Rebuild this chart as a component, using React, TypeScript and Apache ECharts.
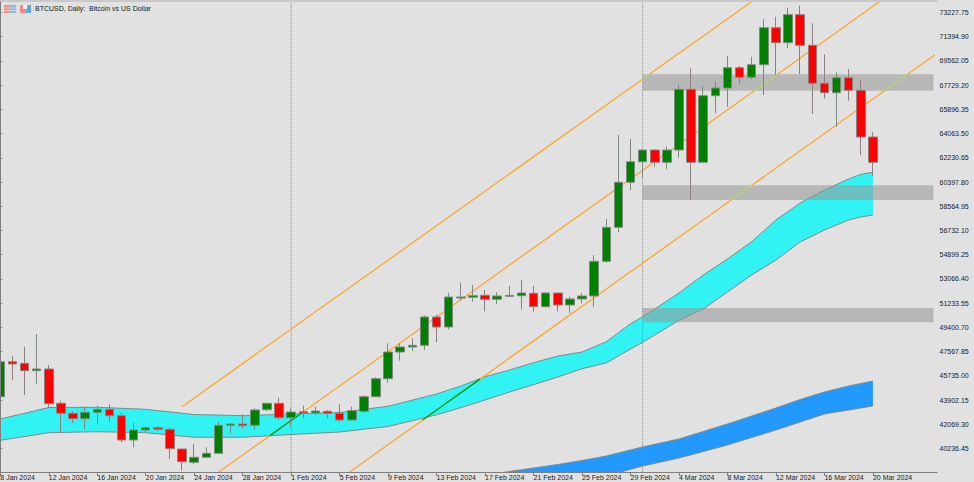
import React, { useEffect, useRef } from "react";
import * as echarts from "echarts";

const title = "BTCUSD, Daily:  Bitcoin vs US Dollar";

const monthSpans: [string, number, number][] = [["Jan", 8, 31], ["Feb", 1, 29], ["Mar", 1, 20]];
const blankSlots = ["", "", "", "", ""];

const opens = [
  44156, 46804, 46683, 46123, 46252, 43656, 42900, 42491, 42975, 43202,
  42718, 40879, 41636, 41810, 41689, 40198, 39192, 39570, 39873, 41991,
  42090, 41991, 43172, 43656, 42567, 43021, 42922, 43051, 42900, 42393,
  43051, 44156, 45518, 47538, 47917, 48045, 50187, 49430, 51624, 51677,
  51829, 51526, 51753, 51798, 51981, 50966, 52003, 51095, 51549, 51776,
  54401, 56974, 60379, 61938, 62823, 61893, 62823, 67417, 61893, 66932,
  67515, 69051, 68325, 69278, 72078, 70943, 73062, 70746, 67871, 67159,
  68294, 67341, 63807,
];
const closes = [
  46804, 46630, 46123, 46252, 43626, 42900, 42491, 42975, 43202, 42718,
  40879, 41636, 41810, 41689, 40221, 39237, 39570, 39873, 41991, 42090,
  41961, 43149, 43656, 42567, 42998, 42922, 43074, 42900, 42393, 43097,
  44156, 45518, 47538, 47917, 48045, 50187, 49430, 51700, 51700, 51798,
  51526, 51776, 51829, 52003, 50966, 52003, 51095, 51549, 51776, 54401,
  56974, 60379, 61938, 62823, 61893, 62823, 67417, 61893, 66932, 67515,
  69051, 68325, 69278, 72078, 70943, 73062, 70746, 67871, 67159, 68294,
  67341, 63807, 61893,
];
const lows = [
  44100, 45419, 44284, 45094, 43301, 41409, 42166, 41712, 42067, 42264,
  40705, 40327, 41485, 41583, 39441, 38556, 39063, 39570, 39873, 41386,
  41712, 41636, 43074, 42393, 41885, 42521, 42771, 42544, 42241, 42317,
  42922, 44156, 45215, 46880, 47614, 47689, 48295, 49256, 51420, 51344,
  50618, 51170, 51723, 50769, 50588, 50921, 50618, 50467, 51223, 50921,
  54296, 56596, 59797, 60705, 61560, 61363, 62241, 59040, 61893, 65601,
  66100, 67818, 68173, 66985, 68499, 70519, 68574, 65548, 66705, 64587,
  66554, 62445, 60879,
];
const highs = [
  46850, 47235, 47939, 48900, 46554, 43853, 43074, 43399, 43475, 43580,
  42945, 42188, 41863, 41939, 41840, 40198, 40577, 40327, 42264, 42143,
  42847, 43278, 43656, 44080, 43278, 43475, 43399, 43149, 43580, 43399,
  44284, 45624, 48197, 48197, 48575, 50315, 50361, 52025, 52782, 52608,
  52230, 52056, 52532, 52986, 52532, 52056, 52003, 51723, 51981, 54878,
  57602, 63959, 63656, 62823, 62823, 63073, 67742, 69006, 67666, 67992,
  69959, 69180, 69884, 72736, 72910, 73591, 73743, 72411, 70065, 68703,
  68953, 68120, 64163,
];

const cyanDays = [0, 4, 8, 12, 16, 20, 24, 28, 32, 36, 38, 40, 42, 44, 46, 48, 50, 52, 53, 54, 56, 58, 60, 62, 64, 66, 68, 70, 71, 72];
const cyanUpper = [42468, 43338, 43354, 43202, 42809, 42718, 42847, 42960, 43429, 44360, 44965, 45669, 46176, 46728, 47235, 47538, 48318, 49680, 50209, 50792, 52003, 53365, 54575, 55885, 57527, 58813, 59797, 60629, 60985, 61136];
const cyanLower = [40856, 41432, 41507, 41432, 41084, 41084, 41295, 41485, 41901, 42786, 43324, 43906, 44511, 45064, 45646, 46274, 46706, 47765, 48272, 48825, 49937, 50792, 52078, 53365, 54500, 55862, 56770, 57527, 57754, 57905];

const blueDays = [41, 42, 44, 46, 48, 50, 53, 56, 58, 60, 62, 64, 66, 68, 70, 72];
const blueUpper = [38344, 38496, 38760, 39025, 39328, 39668, 40350, 40955, 41522, 42090, 42695, 43301, 43944, 44511, 44965, 45344];
const blueLower = [36339, 36566, 37020, 37247, 37474, 38155, 38912, 39517, 40009, 40501, 41068, 41636, 42241, 42847, 43149, 43452];

const zones = [
  [53, 77, 68552, 67311],
  [53, 77, 60152, 59040],
  [53, 77, 50868, 49786],
];

const orangeSegments = [
  [15, 43399, 53.05, 68219], [53.56, 68552, 61.96, 74023],
  [18.04, 38458, 22.25, 41212], [24.87, 42922, 62.22, 67311], [64.13, 68552, 72.5, 74023],
  [28.83, 38458, 34.85, 42393], [39.58, 45488, 60.31, 59040], [62.01, 60152, 72.95, 67311], [74.85, 68552, 77.29, 70141],
];
const greenSegments = [
  [22.25, 41212, 24.87, 42922], [34.85, 42393, 39.58, 45488],
];
const limeSegments = [
  [53.05, 68219, 53.56, 68552], [62.22, 67311, 64.13, 68552], [60.31, 59040, 62.01, 60152], [72.95, 67311, 74.85, 68552],
];
const separatorDays = [24, 53];

const priceTicks = [
  73227.75, 71394.9, 69562.05, 67729.2, 65896.35, 64063.5, 62230.65, 60397.8, 58564.95, 56732.1,
  54899.25, 53066.4, 51233.55, 49400.7, 47567.85, 45735.0, 43902.15, 42069.3, 40236.45,
];

const PRICE_MIN = 38458;
const PRICE_MAX = 74023;
const LAST_DAY = 72;

const BG = "#e1e1e1";
const FRAME = "#7f7f7f";
const FONT = '"Liberation Sans", Arial, sans-serif';

function buildCategories(): string[] {
  const out: string[] = [];
  for (const [m, a, b] of monthSpans) for (let d = a; d <= b; d++) out.push(`${d} ${m} 2024`);
  return out.concat(blankSlots);
}

function bandSeries(days: number[], upper: number[], lower: number[], fill: string) {
  const top = days.map((d, i) => [d, upper[i]]);
  const bottom = days.map((d, i) => [d, lower[i]]);
  const edge = (data: number[][]) => ({
    type: "line", xAxisIndex: 1, yAxisIndex: 0, data, symbol: "none", silent: true, z: 2,
    lineStyle: { color: "#7d8a8a", width: 1 },
  });
  return [
    {
      type: "custom", xAxisIndex: 1, yAxisIndex: 0, data: [0], clip: true, silent: true, z: 2,
      renderItem: (_p: any, api: any) => ({
        type: "polygon",
        shape: { points: [...top, ...bottom.slice().reverse()].map((pt) => api.coord(pt)) },
        style: { fill },
      }),
    },
    edge(top),
    edge(bottom),
  ];
}

function segmentSeries(segments: number[][], color: string) {
  return segments.map(([x0, p0, x1, p1]) => ({
    type: "line", xAxisIndex: 1, yAxisIndex: 0, data: [[x0, p0], [x1, p1]], symbol: "none",
    clip: false, silent: true, z: 4, lineStyle: { color, width: 1.3 },
  }));
}

export default function App() {
  const ref = useRef<HTMLDivElement>(null);
  useEffect(() => {
    document.body.style.margin = "0";
    const chart = echarts.init(ref.current!, undefined, { renderer: "svg" });
    const tickShown = (i: number) => i % 4 === 0 && i <= LAST_DAY;
    chart.setOption({
      animation: false,
      backgroundColor: BG,
      title: {
        text: title, left: 35, top: 5, padding: 0,
        textStyle: { fontFamily: FONT, fontSize: 7, fontWeight: "normal", color: "#1a1a1a" },
      },
      grid: { left: 0.3, right: 40.5, top: 2, bottom: 10, outerBoundsMode: "none", containLabel: false },
      xAxis: [
        {
          type: "category", data: buildCategories(), boundaryGap: false,
          axisLine: { show: false },
          axisTick: { length: 4, interval: tickShown, lineStyle: { color: FRAME } },
          axisLabel: {
            interval: tickShown, align: "left", margin: 2, fontSize: 7, fontFamily: FONT, color: "#222",
            hideOverlap: false,
          },
          splitLine: { show: false },
        },
        { type: "value", min: 0, max: 77, show: false, splitLine: { show: false } },
      ],
      yAxis: {
        type: "value", position: "right", offset: 3.5, min: PRICE_MIN, max: PRICE_MAX,
        axisLine: { show: true, lineStyle: { color: FRAME } },
        axisTick: { show: true, length: 2, customValues: priceTicks, lineStyle: { color: FRAME } },
        axisLabel: {
          customValues: priceTicks, margin: 2.5, fontSize: 7, fontFamily: FONT, color: "#222",
          formatter: (v: number) => v.toFixed(2),
        },
        splitLine: { show: false },
      },
      series: [
        ...bandSeries(cyanDays, cyanUpper, cyanLower, "#32f3f3"),
        ...bandSeries(blueDays, blueUpper, blueLower, "#2199ff"),
        {
          type: "custom", xAxisIndex: 1, yAxisIndex: 0, data: zones, silent: true, z: 3, clip: false,
          encode: { x: [0, 1], y: [2, 3] },
          renderItem: (_p: any, api: any) => {
            const a = api.coord([api.value(0), api.value(2)]);
            const b = api.coord([api.value(1), api.value(3)]);
            return {
              type: "rect",
              shape: { x: a[0], y: a[1], width: b[0] - a[0], height: b[1] - a[1] },
              style: { fill: "rgba(151,151,151,0.57)" },
            };
          },
        },
        ...separatorDays.map((d) => ({
          type: "line", xAxisIndex: 1, yAxisIndex: 0, data: [[d, PRICE_MIN], [d, PRICE_MAX]], symbol: "none",
          silent: true, z: 4, lineStyle: { color: "#8c8c8c", width: 1, type: "dotted" },
        })),
        ...segmentSeries(orangeSegments, "#ffa52e"),
        ...segmentSeries(greenSegments, "#0c930c"),
        ...segmentSeries(limeSegments, "#b4d86c"),
        {
          type: "candlestick", xAxisIndex: 0, yAxisIndex: 0, barWidth: 9, z: 5, silent: true,
          data: opens.map((o, i) => [o, closes[i], lows[i], highs[i]]),
          itemStyle: {
            color: "#008000", color0: "#ff0000", borderColor: "#7f8a7f", borderColor0: "#8f8080", borderWidth: 1,
          },
        },
      ],
      graphic: [
        { type: "line", shape: { x1: 0.5, y1: 1, x2: 0.5, y2: 472 }, style: { stroke: FRAME, lineWidth: 1 }, z: 10 },
        { type: "line", shape: { x1: 0, y1: 472.5, x2: 937.5, y2: 472.5 }, style: { stroke: FRAME, lineWidth: 1 }, z: 10 },
        { type: "line", shape: { x1: 0, y1: 1, x2: 937, y2: 1 }, style: { stroke: "#b0b0b0", lineWidth: 1 }, z: 10 },
        { type: "rect", shape: { x: 4, y: 5, width: 6, height: 8 }, style: { fill: "#f49088" }, z: 10 },
        { type: "rect", shape: { x: 10, y: 5, width: 6, height: 8 }, style: { fill: "#86bce8" }, z: 10 },
        { type: "line", shape: { x1: 4, y1: 8, x2: 16, y2: 8 }, style: { stroke: "#f4d0d0", lineWidth: 0.8 }, z: 11 },
        { type: "line", shape: { x1: 4, y1: 10.5, x2: 16, y2: 10.5 }, style: { stroke: "#f4d0d0", lineWidth: 0.8 }, z: 11 },
        { type: "rect", shape: { x: 20, y: 5, width: 6, height: 8 }, style: { fill: "#f28c84" }, z: 10 },
        { type: "rect", shape: { x: 26, y: 5, width: 5, height: 8 }, style: { fill: "#5fa8e6" }, z: 10 },
        { type: "rect", shape: { x: 23, y: 5, width: 4, height: 4 }, style: { fill: "#f6ecec" }, z: 11 },
      ],
    });
    return () => chart.dispose();
  }, []);
  return (
    <div
      ref={ref}
      style={{ position: "absolute", left: 0, top: 0, width: 974, height: 482, overflow: "hidden" }}
    />
  );
}
